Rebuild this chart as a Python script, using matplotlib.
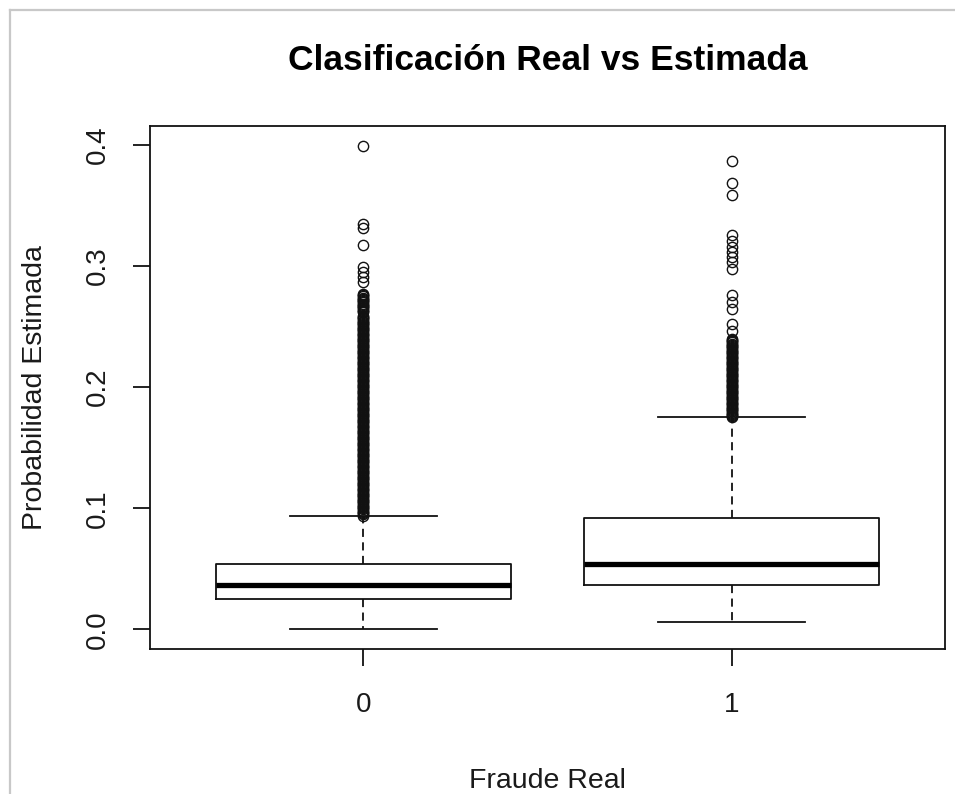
import numpy as np
import matplotlib.pyplot as plt
from matplotlib.lines import Line2D

plt.rcParams["font.family"] = ["Liberation Sans", "DejaVu Sans"]

# ── Data (R boxplot) ───────────────────────────────────────────────────────────
groups = ["0", "1"]
whis_lo = [0.0000, 0.0058]
q1 = [0.0254, 0.0364]
med = [0.0370, 0.0536]
q3 = [0.0541, 0.0922]
whis_hi = [0.0938, 0.1750]

# outliers, in thousandths; the dense runs are where circles merge into a bar
out0_dense = [
    94, 95, 96, 97, 98, 99, 100, 101, 102, 103, 104, 105, 106, 107, 108, 109, 110, 111, 112, 113,
    114, 115, 116, 117, 118, 119, 120, 121, 122, 123, 124, 125, 126, 127, 128, 129, 130, 131, 132, 133,
    134, 135, 136, 137, 138, 139, 140, 141, 142, 143, 144, 145, 146, 147, 148, 149, 150, 151, 152, 153,
    154, 155, 156, 157, 158, 159, 160, 161, 162, 163, 164, 165, 166, 167, 168, 169, 170, 171, 172, 173,
    174, 175, 176, 177, 178, 179, 180, 181, 182, 183, 184, 185, 186, 187, 188, 189, 190, 191, 192, 193,
    194, 195, 196, 197, 198, 199, 200, 201, 202, 203, 204, 205, 206, 207, 208, 209, 210, 211, 212, 213,
    214, 215, 216, 217, 218, 219, 220, 221, 222, 223, 224, 225, 226, 227, 228, 229, 230, 231, 232, 233,
    234, 235, 236, 237, 238, 239, 240, 241, 242, 243, 244, 245, 246, 247, 248, 249, 250, 251, 252, 253,
    254, 255, 256, 257, 258, 259, 262, 263, 264, 265, 266, 267, 268, 269, 270, 271, 272, 273, 274, 275,
    276, 277,
]
out0_sparse = [286.8, 290.9, 295.1, 299.2, 317.2, 331.8, 335.1, 399.4]

out1_dense = [
    175, 176, 177, 178, 179, 180, 181, 182, 183, 184, 185, 186, 187, 188, 189, 190, 191, 192, 193, 194,
    195, 196, 197, 198, 199, 200, 201, 202, 203, 204, 205, 206, 207, 208, 209, 210, 211, 212, 213, 214,
    215, 216, 217, 218, 219, 220, 221, 222, 223, 224, 225, 226, 227, 228, 229, 230, 231, 232, 233, 234,
    235, 236, 237, 238, 239, 240,
]
out1_sparse = [246.8, 252.3, 264.8, 270.0, 275.8, 297.9, 303.4, 307.5, 312.0,
               316.0, 321.0, 326.0, 358.6, 369.0, 387.0]

fliers = [np.array(out0_dense + out0_sparse) / 1000,
          np.array(out1_dense + out1_sparse) / 1000]

stats = [dict(label=groups[i], whislo=whis_lo[i], q1=q1[i], med=med[i],
              q3=q3[i], whishi=whis_hi[i], fliers=fliers[i])
         for i in range(len(groups))]

# ── Figure ─────────────────────────────────────────────────────────────────────
INK = "#111111"
fig = plt.figure(figsize=(9.55, 7.94), dpi=100)
fig.patch.set_facecolor("white")
ax = fig.add_axes([150 / 955, 1 - 648.7 / 794, (945 - 150) / 955, (648.7 - 126) / 794])

ax.bxp(stats, positions=[1, 2], widths=0.8,
       boxprops=dict(color=INK, lw=1.3),
       medianprops=dict(color="black", lw=3.8, solid_capstyle="butt"),
       whiskerprops=dict(color=INK, lw=1.3, linestyle=(0, (4.5, 3))),
       capprops=dict(color=INK, lw=1.3),
       capwidths=0.4,
       flierprops=dict(marker="o", markerfacecolor="none", markeredgecolor=INK,
                       markersize=7.4, markeredgewidth=1.0, linestyle="none"))

ax.set_xlim(0.42, 2.58)
ax.set_ylim(-0.016, 0.4157)
ax.set_yticks([0.0, 0.1, 0.2, 0.3, 0.4])
ax.set_yticklabels(["0.0", "0.1", "0.2", "0.3", "0.4"], rotation=90, va="center")
ax.set_xticks([1, 2])
ax.set_xticklabels(groups)

for spine in ax.spines.values():
    spine.set_color(INK)
    spine.set_linewidth(1.3)
ax.tick_params(length=12, width=1.3, labelsize=20, color=INK, labelcolor="#1a1a1a")
ax.tick_params(axis="x", pad=19)
ax.tick_params(axis="y", pad=16)

ax.set_xlabel("Fraude Real", fontsize=20.5, color="#1a1a1a", labelpad=36)
ax.set_ylabel("Probabilidad Estimada", fontsize=20.5, color="#1a1a1a", labelpad=27)
fig.text(0.5 * (150 + 945) / 955, 1 - 60 / 794, "Clasificación Real vs Estimada",
         fontsize=25.5, fontweight="bold", ha="center", va="center")

# light grey frame at the top and left edge of the screenshot
fig.add_artist(Line2D([9.5 / 955, 9.5 / 955], [0, 1 - 10 / 794],
                      transform=fig.transFigure, color="#c8c8c8", lw=1.6))
fig.add_artist(Line2D([9.5 / 955, 1], [1 - 10 / 794, 1 - 10 / 794],
                      transform=fig.transFigure, color="#c8c8c8", lw=1.6))

fig.savefig("out.png", dpi=100, facecolor="white")
